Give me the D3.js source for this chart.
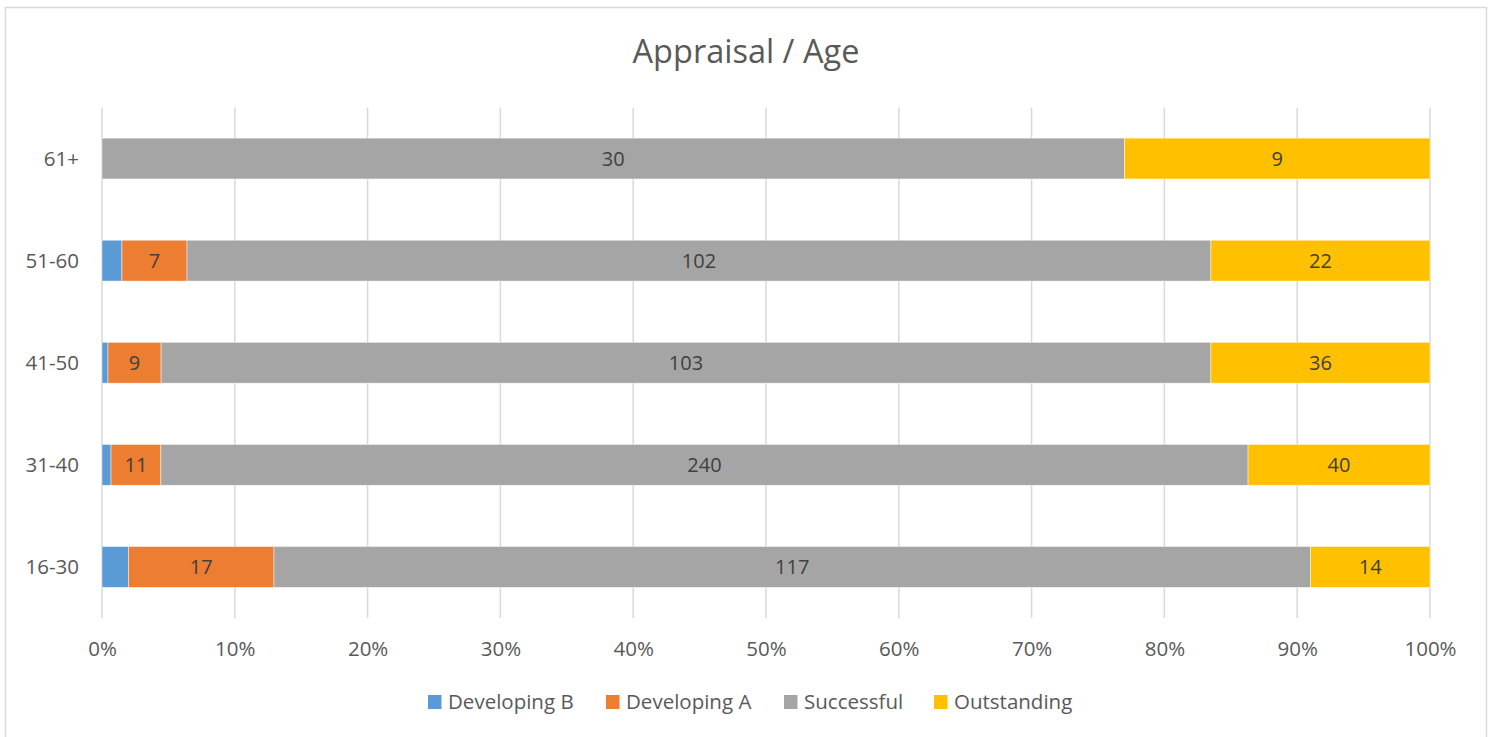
<!DOCTYPE html>
<html>
<head>
<meta charset="utf-8">
<script src="https://cdn.jsdelivr.net/npm/d3@7"></script>
<style>
  html, body { margin: 0; padding: 0; background: #fff; }
  svg { display: block; font-family: "Open Sans", sans-serif; }
</style>
</head>
<body>
<svg id="chart" width="1493" height="737"></svg>
<script>
// ---- data ----
const categories = ["16-30", "31-40", "41-50", "51-60", "61+"];
const seriesNames = ["Developing B", "Developing A", "Successful", "Outstanding"];
// share of each bar, in percent
const developingB = [1.99, 0.68, 0.45, 1.50, 0];
const developingA = [10.96, 3.75, 4.00, 4.90, 0];
const successful  = [78.05, 81.87, 79.05, 77.10, 77.00];
const outstanding = [9.00, 13.70, 16.50, 16.50, 23.00];
// data labels shown on the segments
const labelsDevelopingB = ["", "", "", "", ""];
const labelsDevelopingA = ["17", "11", "9", "7", ""];
const labelsSuccessful  = ["117", "240", "103", "102", "30"];
const labelsOutstanding = ["14", "40", "36", "22", "9"];
const xTicks = [0, 10, 20, 30, 40, 50, 60, 70, 80, 90, 100];
const title = "Appraisal / Age";
const colors = ["#5B9BD5", "#ED7D31", "#A5A5A5", "#FFC000"];

// ---- build table ----
const keys = ["b", "a", "s", "o"];
const labelArrays = [labelsDevelopingB, labelsDevelopingA, labelsSuccessful, labelsOutstanding];
const table = categories.map((c, i) => ({
  cat: c, b: developingB[i], a: developingA[i], s: successful[i], o: outstanding[i]
}));

const svg = d3.select("#chart");

// chart border
svg.append("rect")
  .attr("x", 5.5).attr("y", 7.5)
  .attr("width", 1481).attr("height", 760)
  .attr("fill", "#fff").attr("stroke", "#D9D9D9").attr("stroke-width", 1.5);

const plot = { left: 102, right: 1430, top: 107.5, bottom: 618 };

const x = d3.scaleLinear().domain([0, 100]).range([plot.left, plot.right]);
const y = d3.scaleBand()
  .domain(categories.slice().reverse())
  .range([plot.top, plot.bottom])
  .paddingInner(0.6).paddingOuter(0.3);

// title
svg.append("text")
  .attr("x", 746).attr("y", 63)
  .attr("text-anchor", "middle")
  .attr("font-size", 32.5)
  .attr("fill", "#595959")
  .text(title);

// gridlines
svg.append("g").selectAll("line")
  .data(xTicks)
  .join("line")
  .attr("x1", d => x(d)).attr("x2", d => x(d))
  .attr("y1", plot.top).attr("y2", plot.bottom)
  .attr("stroke", "#D9D9D9").attr("stroke-width", 1.5);

// stacked bars
const stacked = d3.stack().keys(keys)(table);

const groups = svg.append("g").selectAll("g")
  .data(stacked)
  .join("g")
  .attr("fill", (d, i) => colors[i]);

groups.selectAll("rect")
  .data(d => d.filter(p => p[1] - p[0] > 0))
  .join("rect")
  .attr("x", d => x(d[0]))
  .attr("width", d => x(d[1]) - x(d[0]))
  .attr("y", d => y(d.data.cat))
  .attr("height", y.bandwidth())
  .attr("stroke", "#ffffff")
  .attr("stroke-opacity", 0.6)
  .attr("stroke-width", 0.75);

// data labels
stacked.forEach((layer, si) => {
  svg.append("g").selectAll("text")
    .data(layer.map((p, ci) => ({ p, label: labelArrays[si][ci] })).filter(d => d.label !== ""))
    .join("text")
    .attr("x", d => (x(d.p[0]) + x(d.p[1])) / 2)
    .attr("y", d => y(d.p.data.cat) + y.bandwidth() / 2)
    .attr("dy", "0.36em")
    .attr("text-anchor", "middle")
    .attr("font-size", 20)
    .attr("fill", "#404040")
    .text(d => d.label);
});

// x axis
const xAxis = d3.axisBottom(x).tickValues(xTicks).tickFormat(d => d + "%").tickSize(0).tickPadding(0);
const gx = svg.append("g").attr("transform", `translate(0, 656)`).call(xAxis);
gx.select(".domain").remove();
gx.selectAll("text")
  .attr("font-size", 20.5)
  .attr("font-family", "Open Sans, sans-serif")
  .attr("fill", "#595959")
  .attr("dy", 0).attr("y", 0);

// y axis
const yAxis = d3.axisLeft(y).tickSize(0).tickPadding(0);
const gy = svg.append("g").attr("transform", `translate(79, 0)`).call(yAxis);
gy.select(".domain").remove();
gy.selectAll("text")
  .attr("font-size", 20.5)
  .attr("font-family", "Open Sans, sans-serif")
  .attr("fill", "#595959")
  .attr("dy", "0.36em");

// legend
const legendX = [428, 606, 784, 934];
const legend = svg.append("g").selectAll("g")
  .data(seriesNames)
  .join("g")
  .attr("transform", (d, i) => `translate(${legendX[i]}, 702)`);
legend.append("rect")
  .attr("x", 0).attr("y", -7)
  .attr("width", 13.5).attr("height", 14)
  .attr("fill", (d, i) => colors[i]);
legend.append("text")
  .attr("x", 20)
  .attr("dy", "0.36em")
  .attr("font-size", 20.5)
  .attr("fill", "#595959")
  .text(d => d);
</script>
</body>
</html>
